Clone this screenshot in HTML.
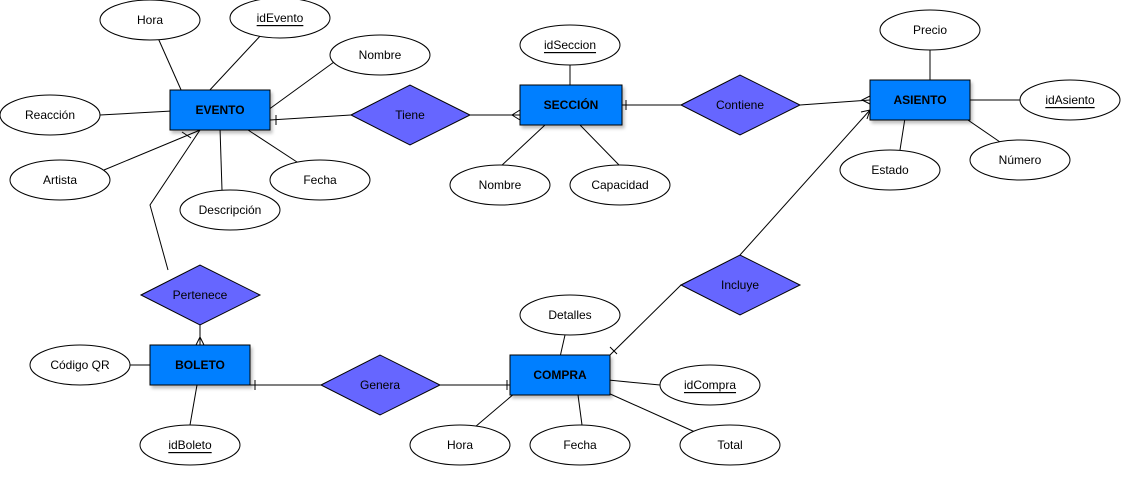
<!DOCTYPE html>
<html><head><meta charset="utf-8"><style>
html,body{margin:0;padding:0;background:#fff;}
svg{display:block;}
text{font-family:"Liberation Sans",sans-serif;font-size:12px;text-anchor:middle;dominant-baseline:central;fill:#000;}
.b{font-weight:bold;}
</style></head><body>
<svg width="1132" height="477" viewBox="0 0 1132 477">
<defs><filter id="s" x="-10%" y="-10%" width="130%" height="140%"><feDropShadow dx="2" dy="3" stdDeviation="1.5" flood-color="#000" flood-opacity="0.25"/></filter></defs>
<g stroke="#000" stroke-width="1" fill="none">
<!-- EVENTO attrs -->
<line x1="150" y1="20" x2="182" y2="92"/>
<line x1="262" y1="34" x2="208" y2="92"/>
<line x1="334" y1="62" x2="268" y2="110"/>
<line x1="100" y1="115" x2="172" y2="111"/>
<line x1="104" y1="170" x2="205" y2="128"/>
<line x1="222" y1="190" x2="220" y2="128"/>
<line x1="300" y1="164" x2="245" y2="128"/>
<!-- SECCION attrs -->
<line x1="570" y1="65" x2="570" y2="87"/>
<line x1="500" y1="167" x2="545" y2="125"/>
<line x1="620" y1="166" x2="580" y2="125"/>
<!-- ASIENTO attrs -->
<line x1="930" y1="50" x2="930" y2="82"/>
<line x1="968" y1="100" x2="1020" y2="100"/>
<line x1="900" y1="150" x2="905" y2="118"/>
<line x1="1000" y1="142" x2="965" y2="118"/>
<!-- BOLETO -->
<line x1="130" y1="365" x2="152" y2="365"/>
<line x1="190" y1="425" x2="197" y2="385"/>
<!-- COMPRA -->
<line x1="565" y1="335" x2="560" y2="357"/>
<line x1="660" y1="385" x2="608" y2="380"/>
<line x1="475" y1="427" x2="515" y2="393"/>
<line x1="582" y1="425" x2="578" y2="395"/>
<line x1="695" y1="432" x2="608" y2="393"/>
<!-- relationships -->
<line x1="270" y1="120" x2="351" y2="115"/><line x1="276" y1="115" x2="276" y2="125"/>
<line x1="470" y1="115" x2="520" y2="115"/><path d="M520 110 L512 115 L520 120"/>
<line x1="622" y1="105" x2="681" y2="105"/><line x1="626" y1="100" x2="626" y2="110"/>
<line x1="800" y1="105" x2="870" y2="100"/><path d="M870 96 L862 100 L870 104"/>
<polyline points="168,270 150,205 200,130"/><line x1="182" y1="132" x2="191" y2="138"/>
<line x1="200" y1="325" x2="200" y2="345"/><path d="M196 345 L200 337 L204 345"/>
<line x1="250" y1="385" x2="321" y2="385"/><line x1="255" y1="380" x2="255" y2="390"/>
<line x1="440" y1="385" x2="510" y2="385"/><line x1="507" y1="380" x2="507" y2="390"/>
<line x1="610" y1="355" x2="681" y2="285"/><line x1="610" y1="347" x2="617" y2="354"/>
<line x1="740" y1="255" x2="870" y2="110"/><path d="M861 112 L870 110 L867 119"/>
</g>
<g fill="#fff" stroke="#000">
<ellipse cx="150" cy="20" rx="50" ry="20"/><text x="150" y="20" stroke="none" fill="#000">Hora</text>
<ellipse cx="280" cy="18" rx="50" ry="20"/><text x="280" y="18" stroke="none" fill="#000" text-decoration="underline">idEvento</text>
<ellipse cx="380" cy="55" rx="50" ry="20"/><text x="380" y="55" stroke="none" fill="#000">Nombre</text>
<ellipse cx="50" cy="115" rx="50" ry="20"/><text x="50" y="115" stroke="none" fill="#000">Reacción</text>
<ellipse cx="60" cy="180" rx="50" ry="20"/><text x="60" y="180" stroke="none" fill="#000">Artista</text>
<ellipse cx="230" cy="210" rx="50" ry="20"/><text x="230" y="210" stroke="none" fill="#000">Descripción</text>
<ellipse cx="320" cy="180" rx="50" ry="20"/><text x="320" y="180" stroke="none" fill="#000">Fecha</text>
<ellipse cx="570" cy="45" rx="50" ry="20"/><text x="570" y="45" stroke="none" fill="#000" text-decoration="underline">idSeccion</text>
<ellipse cx="500" cy="185" rx="50" ry="20"/><text x="500" y="185" stroke="none" fill="#000">Nombre</text>
<ellipse cx="620" cy="185" rx="50" ry="20"/><text x="620" y="185" stroke="none" fill="#000">Capacidad</text>
<ellipse cx="930" cy="30" rx="50" ry="20"/><text x="930" y="30" stroke="none" fill="#000">Precio</text>
<ellipse cx="1070" cy="100" rx="50" ry="20"/><text x="1070" y="100" stroke="none" fill="#000" text-decoration="underline">idAsiento</text>
<ellipse cx="890" cy="170" rx="50" ry="20"/><text x="890" y="170" stroke="none" fill="#000">Estado</text>
<ellipse cx="1020" cy="160" rx="50" ry="20"/><text x="1020" y="160" stroke="none" fill="#000">Número</text>
<ellipse cx="80" cy="365" rx="50" ry="20"/><text x="80" y="365" stroke="none" fill="#000">Código QR</text>
<ellipse cx="190" cy="445" rx="50" ry="20"/><text x="190" y="445" stroke="none" fill="#000" text-decoration="underline">idBoleto</text>
<ellipse cx="570" cy="315" rx="50" ry="20"/><text x="570" y="315" stroke="none" fill="#000">Detalles</text>
<ellipse cx="710" cy="385" rx="50" ry="20"/><text x="710" y="385" stroke="none" fill="#000" text-decoration="underline">idCompra</text>
<ellipse cx="460" cy="445" rx="50" ry="20"/><text x="460" y="445" stroke="none" fill="#000">Hora</text>
<ellipse cx="580" cy="445" rx="50" ry="20"/><text x="580" y="445" stroke="none" fill="#000">Fecha</text>
<ellipse cx="730" cy="445" rx="50" ry="20"/><text x="730" y="445" stroke="none" fill="#000">Total</text>
</g>
<g fill="#6666FF" stroke="#000">
<polygon points="351,115 410,85 470,115 410,145"/><text x="410" y="115" stroke="none" fill="#000">Tiene</text>
<polygon points="681,105 740,75 800,105 740,135"/><text x="740" y="105" stroke="none" fill="#000">Contiene</text>
<polygon points="141,295 200,265 260,295 200,325"/><text x="200" y="295" stroke="none" fill="#000">Pertenece</text>
<polygon points="321,385 380,355 440,385 380,415"/><text x="380" y="385" stroke="none" fill="#000">Genera</text>
<polygon points="681,285 740,255 800,285 740,315"/><text x="740" y="285" stroke="none" fill="#000">Incluye</text>
</g>
<g fill="#007FFF" stroke="#000" filter="url(#s)">
<rect x="170" y="90" width="100" height="40"/>
<rect x="520" y="85" width="102" height="40"/>
<rect x="870" y="80" width="100" height="40"/>
<rect x="150" y="345" width="100" height="40"/>
<rect x="510" y="355" width="100" height="40"/>
</g>
<text class="b" x="220" y="110">EVENTO</text>
<text class="b" x="571" y="105">SECCIÓN</text>
<text class="b" x="920" y="100">ASIENTO</text>
<text class="b" x="200" y="365">BOLETO</text>
<text class="b" x="560" y="375">COMPRA</text>
</svg>
</body></html>
